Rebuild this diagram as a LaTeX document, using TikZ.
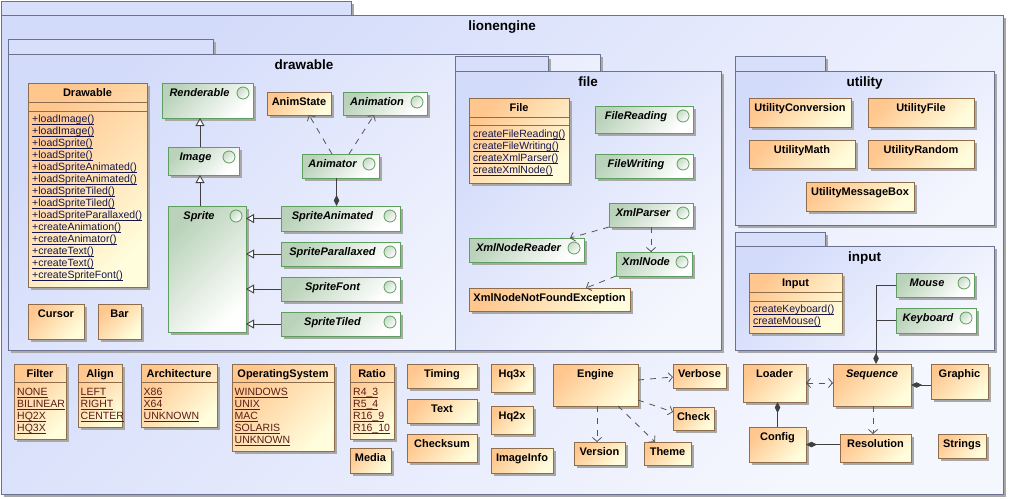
\documentclass[tikz,border=0pt]{standalone}
\usepackage{fontspec}
\setmainfont{Liberation Sans}
\usetikzlibrary{arrows.meta,shadows,calc}
\definecolor{orA}{HTML}{FFC68E}
\definecolor{orB}{HTML}{FFFDDC}
\definecolor{orD}{HTML}{8E6D4C}
\definecolor{grA}{HTML}{B9D2B9}
\definecolor{grD}{HTML}{5E9E5E}
\definecolor{pkA}{HTML}{D3DBFA}
\definecolor{pkB}{HTML}{F5F7FE}
\definecolor{pkD}{HTML}{6C7190}
\definecolor{pkT}{HTML}{D7DFFB}
\definecolor{shdc}{HTML}{A8A8A8}
\definecolor{lnc}{HTML}{404040}
\definecolor{dpc}{HTML}{555555}
\definecolor{mtc}{HTML}{16164A}
\definecolor{enc}{HTML}{5A1C16}
\newcommand\ulx[1]{\setbox0\hbox{#1}\rlap{\rule[-1.6pt]{\wd0}{0.55pt}}\box0}
\newcommand\mybx[6]{\node[#6, minimum width={#4pt-#2pt}, minimum height={#5pt-#3pt}, anchor=north west] (#1) at (#2,#3) {};}
\newcommand\mycls[6]{\mybx{#1}{#2}{#3}{#4}{#5}{cbox}\node[cname, anchor=base] (#1t) at ($(#1.north)+(0,13)$) {#6};}
\newcommand\myifc[6]{\mybx{#1}{#2}{#3}{#4}{#5}{ibox}\node[circ] (#1c) at ($(#1.north east)+(-10,10)$) {};\node[iname, anchor=base] (#1t) at ($(#1.north)+(-8,13)$) {#6};}
\newcommand\mypkg[9]{\mybx{#1tab}{#2}{#3}{#4}{#5}{ptab}\mybx{#1}{#2}{#5}{#6}{#7}{pbody}\node[pname, anchor=base] (#1t) at ($(#1.north)+(0,#9)$) {#8};}
\newcommand\mlist[5]{\foreach \t [count=\i] in {#5} {\node[#4, anchor=base west] (#1\i) at (#2, #3+12*\i-12) {\ulx{\t}};}}
\newcommand\compline[2]{\draw[cln] ($(#1.north west)+(0,#2)$) -- ($(#1.north east)+(0,#2)$);}
\begin{document}
\begin{tikzpicture}[x=1pt,y=-1pt,
  shadowed/.style={drop shadow={shadow xshift=3pt,shadow yshift=-3pt,fill=shdc,opacity=1}},
  cbox/.style={rectangle, draw=orD, line width=0.9pt, inner sep=0, outer sep=0, shadowed, top color=orA, bottom color=orB, shading angle=45},
  ibox/.style={rectangle, draw=grD, line width=0.9pt, inner sep=0, outer sep=0, shadowed, top color=grA, bottom color=white, shading angle=45},
  ptab/.style={rectangle, draw=pkD, line width=0.9pt, inner sep=0, outer sep=0, shadowed, fill=pkT},
  pbody/.style={rectangle, draw=pkD, line width=0.9pt, inner sep=0, outer sep=0, shadowed, top color=pkA, bottom color=pkB, shading angle=45},
  circ/.style={circle, draw=grD, line width=0.8pt, minimum size=12pt, inner sep=0, top color=grA!80, bottom color=white, shading angle=45},
  cname/.style={inner sep=0, font=\bfseries\fontsize{11}{13}\selectfont},
  iname/.style={inner sep=0, font=\bfseries\itshape\fontsize{11}{13}\selectfont},
  pname/.style={inner sep=0, font=\bfseries\fontsize{13.5}{15}\selectfont},
  meth/.style={inner sep=0, text=mtc, font=\fontsize{10.5}{12}\selectfont},
  lit/.style={inner sep=0, text=enc, font=\fontsize{10.5}{12}\selectfont},
  cln/.style={draw=orD, line width=0.9pt},
  dep/.style={draw=dpc, line width=0.8pt, dash pattern=on 6pt off 6pt, -{Straight Barb[length=4pt,width=9pt,line width=0.8pt]}},
  depb/.style={draw=dpc, line width=0.8pt, dash pattern=on 6pt off 6pt, {Straight Barb[length=4pt,width=9pt,line width=0.8pt]}-{Straight Barb[length=4pt,width=9pt,line width=0.8pt]}},
  gen/.style={draw=lnc, line width=0.9pt, -{Triangle[open,length=8pt,width=9pt,fill=white]}},
  comp/.style={draw=lnc, line width=0.9pt, -{Diamond[length=11pt,width=5.5pt]}},
  lnk/.style={draw=lnc, line width=0.9pt}]
\useasboundingbox (0,0) rectangle (1011,498);
% packages
\mypkg{lion}{1}{1}{351}{15}{1003}{494}{lionengine}{15}
\mypkg{drawable}{8}{39}{213}{54}{600}{350}{drawable}{15.5}
\mypkg{filep}{455}{56}{548}{71}{721}{350}{file}{15.5}
\mypkg{utility}{735}{56}{825}{71}{994}{225}{utility}{15.5}
\mypkg{input}{735}{232}{825}{246}{994}{350}{input}{15}
% drawable
\mycls{drw}{28}{83}{147}{287}{Drawable}
\compline{drw}{19}\compline{drw}{28}
\mlist{dm}{32}{122.5}{meth}{+loadImage(),+loadImage(),+loadSprite(),+loadSprite(),+loadSpriteAnimated(),+loadSpriteAnimated(),+loadSpriteTiled(),+loadSpriteTiled(),+loadSpriteParallaxed(),+createAnimation(),+createAnimator(),+createText(),+createText(),+createSpriteFont()}
\myifc{rend}{162}{83}{253}{118}{Renderable}
\myifc{img}{168}{147}{239}{175}{Image}
\myifc{spr}{168}{206}{246}{332}{Sprite}
\mycls{animstate}{267}{92}{331}{115}{AnimState}
\myifc{animation}{343}{92}{427}{115}{Animation}
\myifc{animator}{302}{154}{379}{178}{Animator}
\myifc{sanim}{281}{206}{400}{231}{SpriteAnimated}
\myifc{spar}{281}{242}{400}{266}{SpriteParallaxed}
\myifc{sfont}{281}{277}{400}{301}{SpriteFont}
\myifc{stiled}{281}{312}{400}{336}{SpriteTiled}
\mycls{cursor}{28}{304}{84}{339}{Cursor}
\mycls{bar}{98}{304}{141}{339}{Bar}
\draw[gen] ($(img.north)+(-3.5,0)$) -- ($(rend.south)+(-7.5,0)$);
\draw[gen] ($(spr.north)+(-7,0)$) -- ($(img.south)+(-3.5,0)$);
\draw[gen] (sanim.west) -- (sanim.west -| spr.east);
\draw[gen] (spar.west) -- (spar.west -| spr.east);
\draw[gen] (sfont.west) -- (sfont.west -| spr.east);
\draw[gen] (stiled.west) -- (stiled.west -| spr.east);
\draw[dep] ($(animator.north)+(-8.5,0)$) -- ($(animstate.south)+(10,0)$);
\draw[dep] ($(animator.north)+(8.5,0)$) -- ($(animation.south)+(-11,0)$);
\draw[comp] ($(animator.south)+(-4,0)$) -- ($(sanim.north)+(-4,0)$);
% file
\mycls{filec}{469}{98}{569}{183}{File}
\compline{filec}{19}\compline{filec}{27}
\mlist{fm}{473}{137.5}{meth}{createFileReading(),createFileWriting(),createXmlParser(),createXmlNode()}
\myifc{fread}{595}{106}{693}{133}{FileReading}
\myifc{fwrite}{595}{154}{693}{178}{FileWriting}
\myifc{xparser}{609}{203}{693}{227}{XmlParser}
\myifc{xnreader}{469}{238}{584}{262}{XmlNodeReader}
\myifc{xnode}{616}{252}{692}{276}{XmlNode}
\mycls{xexc}{469}{288}{630}{311}{XmlNodeNotFoundException}
\draw[dep] (xparser.south west) -- ($(xnreader.north east)+(-14,0)$);
\draw[dep] (xparser.south) -- (xparser.south |- xnode.north);
\draw[dep] (xnode.south west) -- ($(xexc.north east)+(-44,0)$);
% utility
\mycls{uconv}{749}{98}{851}{127}{UtilityConversion}
\mycls{ufile}{868}{98}{974}{127}{UtilityFile}
\mycls{umath}{749}{140}{855}{168}{UtilityMath}
\mycls{urand}{868}{140}{974}{168}{UtilityRandom}
\mycls{umsg}{806}{182}{914}{211}{UtilityMessageBox}
% input
\mycls{inputc}{749}{273}{842}{333}{Input}
\compline{inputc}{19}\compline{inputc}{28}
\mlist{im}{753}{312.5}{meth}{createKeyboard(),createMouse()}
\myifc{mouse}{896}{273}{974}{297}{Mouse}
\myifc{keyb}{896}{308}{976}{333}{Keyboard}
% bottom row
\mycls{filter}{14}{364}{66}{439}{Filter}\compline{filter}{18}
\mlist{fl}{17}{395.5}{lit}{NONE,BILINEAR,HQ2X,HQ3X}
\mycls{align}{78}{364}{122}{427}{Align}\compline{align}{18}
\mlist{al}{80.5}{395.5}{lit}{LEFT,RIGHT,CENTER}
\mycls{arch}{141}{364}{217}{427}{Architecture}\compline{arch}{18}
\mlist{ar}{143.5}{395.5}{lit}{X86,X64,UNKNOWN}
\mycls{os}{232}{364}{334}{451}{OperatingSystem}\compline{os}{18}
\mlist{osl}{234.5}{395.5}{lit}{WINDOWS,UNIX,MAC,SOLARIS,UNKNOWN}
\mycls{ratio}{350}{364}{394}{439}{Ratio}\compline{ratio}{18}
\mlist{rl}{353}{395.5}{lit}{R4\_3,R5\_4,R16\_9,R16\_10}
\mycls{media}{350}{448}{391}{473}{Media}
\mycls{timing}{407}{364}{477}{388}{Timing}
\mycls{textc}{407}{399}{477}{423}{Text}
\mycls{checksum}{407}{434}{477}{462}{Checksum}
\mycls{hq3x}{491}{364}{533}{392}{Hq3x}
\mycls{hq2x}{491}{406}{533}{434}{Hq2x}
\mycls{imginfo}{491}{448}{553}{473}{ImageInfo}
\mycls{engine}{553}{364}{638}{406}{Engine}
\mycls{verbose}{673}{364}{726}{388}{Verbose}
\mycls{check}{673}{407}{714}{430}{Check}
\mycls{version}{574}{442}{625}{465}{Version}
\mycls{theme}{644}{442}{691}{465}{Theme}
\mycls{loader}{743}{364}{806}{402}{Loader}
\mycls{sequence}{833}{364}{911}{406}{\itshape Sequence}
\mycls{graphic}{931}{364}{988}{399}{Graphic}
\mycls{config}{749}{427}{806}{462}{Config}
\mycls{resol}{840}{434}{911}{462}{Resolution}
\mycls{strings}{938}{434}{986}{458}{Strings}
\draw[dep] ($(engine.east)+(0,-5)$) -- ($(verbose.west)+(0,1)$);
\draw[dep] ($(engine.east)+(0,15)$) -- ($(check.west)+(0,-6.5)$);
\draw[dep] ($(engine.south)+(1.5,0)$) -- ($(version.north)+(-2.5,0)$);
\draw[dep] ($(engine.south)+(22.5,0)$) -- ($(theme.north west)+(11,0)$);
\draw[depb] (loader.east) -- (loader.east -| sequence.west);
\draw[dep] ($(sequence.south)+(1,0)$) -- ($(resol.north)+(-2.5,0)$);
\draw[comp] (sequence.east -| graphic.west) -- (sequence.east);
\draw[comp] (config.north) -- (config.north |- loader.south);
\draw[comp] (resol.west |- config.east) -- (config.east);
\draw[comp] (mouse.west) -| ($(sequence.north)+(4,0)$);
\draw[lnk] (keyb.west) -- ($(keyb.west)+(-20,0)$);
\end{tikzpicture}
\end{document}
